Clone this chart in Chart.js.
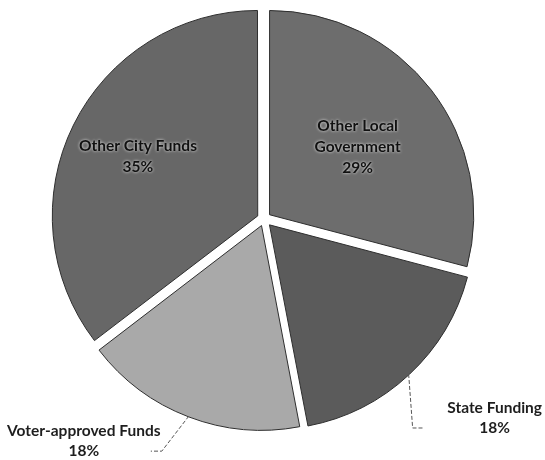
<!DOCTYPE html>
<html>
<head>
<meta charset="utf-8">
<script src="https://cdn.jsdelivr.net/npm/chart.js@4.4.1/dist/chart.umd.min.js"></script>
<style>
  html, body { margin: 0; padding: 0; background: #ffffff; }
</style>
</head>
<body>
<canvas id="pie-chart" width="545" height="460"></canvas>
<script>
// slices in drawing order, clockwise from 12 o'clock
const categories = ['Other Local Government', 'State Funding', 'Voter-approved Funds', 'Other City Funds'];
const labelLines = [['Other Local', 'Government'], ['State Funding'], ['Voter-approved Funds'], ['Other City Funds']];
const shares = [29.1, 17.9, 17.6, 35.4];

const sliceColors = ['#6d6d6d', '#5b5b5b', '#a9a9a9', '#676767'];
const sliceShift = [7, 8, 7, 7];   // px each slice is pulled out
const pieRadius = 204;

// where each label goes: inside at a fraction of the radius, or outside with a leader line
const labelPlacement = [
    { inside: true, r: 0.545 },
    { inside: false, elbow: [4, 54], tail: 10, text: [72, -20] },
    { inside: false, elbow: [-27, 35], tail: -11, text: [-67, -20] },
    { inside: true, r: 0.655 },
];

const sliceLabels = {
    id: 'sliceLabels',
    afterDatasetsDraw(chart) {
        const ctx = chart.ctx;
        const meta = chart.getDatasetMeta(0);
        const total = shares.reduce((a, b) => a + b, 0);
        ctx.save();
        ctx.font = "bold 15.5px 'Lato', 'Open Sans', sans-serif";
        ctx.textAlign = 'center';
        ctx.textBaseline = 'middle';
        meta.data.forEach((arc, i) => {
            const { x, y, startAngle, endAngle, outerRadius } = arc.getProps(['x', 'y', 'startAngle', 'endAngle', 'outerRadius'], true);
            const mid = (startAngle + endAngle) / 2;
            const off = sliceShift[i];
            const lines = labelLines[i].concat(Math.round(shares[i] / total * 100) + '%');
            const p = labelPlacement[i];
            if (p.inside) {
                const d = off + p.r * outerRadius;
                const cx = x + Math.cos(mid) * d;
                const cy = y + Math.sin(mid) * d;
                const lh = 21;
                const top = cy - (lines.length - 1) * lh / 2;
                ctx.fillStyle = '#111111';
                ctx.shadowColor = 'rgba(255,255,255,0.9)';
                ctx.shadowBlur = 3;
                lines.forEach((t, k) => ctx.fillText(t, cx, top + k * lh));
                ctx.shadowBlur = 0;
            } else {
                const d = off + outerRadius;
                const ex = x + Math.cos(mid) * d;
                const ey = y + Math.sin(mid) * d;
                const bx = ex + p.elbow[0];
                const by = ey + p.elbow[1];
                const tx = bx + p.tail;
                ctx.strokeStyle = '#555555';
                ctx.lineWidth = 1;
                ctx.setLineDash([4, 2]);
                ctx.beginPath();
                ctx.moveTo(ex, ey);
                ctx.lineTo(bx, by);
                ctx.lineTo(tx, by);
                ctx.stroke();
                ctx.setLineDash([]);
                const lx = tx + p.text[0];
                const ly = by + p.text[1];
                ctx.fillStyle = '#1e1e1e';
                lines.forEach((t, k) => ctx.fillText(t, lx, ly + k * 20));
            }
        });
        ctx.restore();
    }
};

const config = {
    type: 'pie',
    data: {
        labels: categories,
        datasets: [{
            data: shares,
            backgroundColor: sliceColors,
            borderColor: '#2e2e2e',
            borderWidth: 1,
            // Chart.js moves an arc by offset / 4
            offset: sliceShift.map(v => v * 4),
            radius: pieRadius,
        }]
    },
    options: {
        responsive: false,
        animation: false,
        layout: {
            padding: { top: 11, bottom: 33, left: 56, right: 73 }
        },
        plugins: {
            legend: { display: false },
            tooltip: { enabled: false },
        }
    },
    plugins: [sliceLabels]
};

new Chart(document.getElementById('pie-chart'), config);
</script>
</body>
</html>
